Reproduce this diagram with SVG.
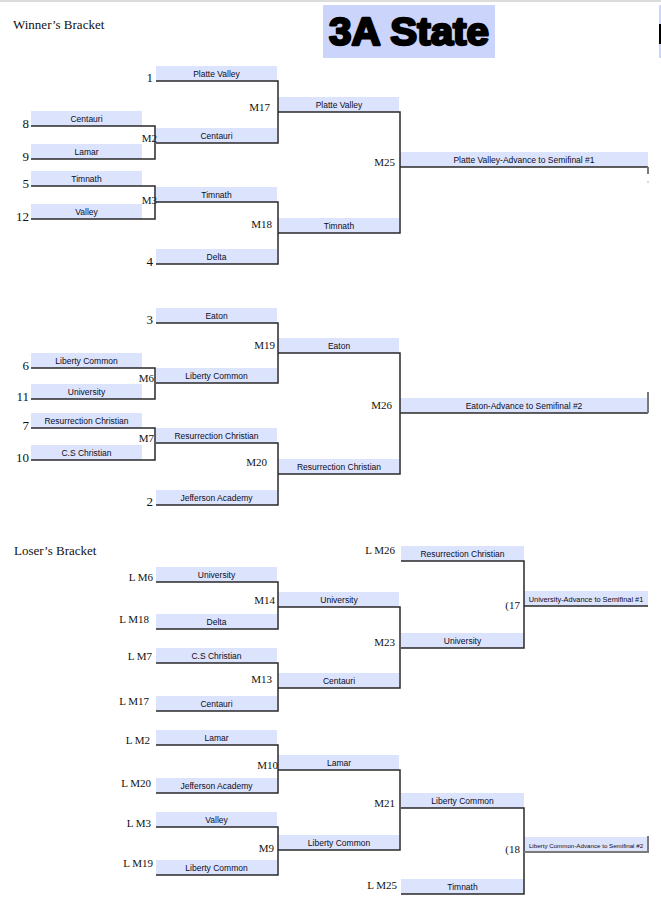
<svg xmlns="http://www.w3.org/2000/svg" width="661" height="915" viewBox="0 0 661 915">
<style>
.bx{fill:#dce3fc}
.ln{stroke:#2a2a2a;stroke-width:1.5;fill:none}
.tk{stroke:#7a7a7a;stroke-width:2;fill:none}
.t{font-family:"Liberation Sans",Arial,sans-serif;font-size:8.5px;fill:#0c0c1c;text-anchor:middle}
.lb{font-family:"Liberation Serif","Times New Roman",serif;font-size:11px;fill:#111;text-anchor:end}
.sd{font-family:"Liberation Serif","Times New Roman",serif;font-size:13px;fill:#111;text-anchor:end}
.hd{font-family:"Liberation Serif","Times New Roman",serif;font-size:13px;fill:#111}
</style>
<rect width="661" height="915" fill="#fff"/>
<line x1="0" y1="1" x2="661" y2="1" stroke="#d0d0d0" stroke-width="1.5"/>
<g id="title">
<rect x="323" y="5" width="172" height="53" fill="#cbd4fb"/>
<text x="409" y="45" font-family="'Liberation Sans',Arial,sans-serif" font-weight="bold" font-size="38" fill="#000" stroke="#000" stroke-width="2.4" stroke-linejoin="round" text-anchor="middle" textLength="160" lengthAdjust="spacingAndGlyphs">3A State</text>
</g>
<rect x="659" y="5" width="2" height="53" fill="#cbd4fb"/>
<rect x="659" y="24" width="2" height="20" fill="#000"/>
<text class="hd" x="13" y="29">Winner’s Bracket</text>
<text class="hd" x="14" y="555">Loser’s Bracket</text>

<!-- Winner's bracket, upper half -->
<g id="w-r1-centauri"><rect class="bx" x="31" y="111" width="111" height="15"/><text class="t" x="86.5" y="122">Centauri</text></g>
<g id="w-r1-lamar"><rect class="bx" x="31" y="144" width="111" height="15"/><text class="t" x="86.5" y="155">Lamar</text></g>
<g id="w-r1-timnath"><rect class="bx" x="31" y="171" width="111" height="15"/><text class="t" x="86.5" y="182">Timnath</text></g>
<g id="w-r1-valley"><rect class="bx" x="31" y="204" width="111" height="15"/><text class="t" x="86.5" y="215">Valley</text></g>
<g id="w-r2-platte"><rect class="bx" x="156" y="66" width="121" height="15"/><text class="t" x="216.5" y="77">Platte Valley</text></g>
<g id="w-r2-centauri"><rect class="bx" x="156" y="128" width="121" height="15"/><text class="t" x="216.5" y="139">Centauri</text></g>
<g id="w-r2-timnath"><rect class="bx" x="156" y="187" width="121" height="15"/><text class="t" x="216.5" y="198">Timnath</text></g>
<g id="w-r2-delta"><rect class="bx" x="156" y="249" width="121" height="15"/><text class="t" x="216.5" y="260">Delta</text></g>
<g id="w-r3-platte"><rect class="bx" x="278" y="97" width="121" height="15"/><text class="t" x="339" y="108">Platte Valley</text></g>
<g id="w-r3-timnath"><rect class="bx" x="278" y="218" width="121" height="15"/><text class="t" x="339" y="229">Timnath</text></g>
<g id="w-r4-platte"><rect class="bx" x="400" y="152" width="248" height="15"/><text class="t" x="524" y="163">Platte Valley-Advance to Semifinal #1</text></g>

<!-- Winner's bracket, lower half -->
<g id="w-r1-liberty"><rect class="bx" x="31" y="353" width="111" height="15"/><text class="t" x="86.5" y="364">Liberty Common</text></g>
<g id="w-r1-university"><rect class="bx" x="31" y="384" width="111" height="15"/><text class="t" x="86.5" y="395">University</text></g>
<g id="w-r1-resurrection"><rect class="bx" x="31" y="413" width="111" height="15"/><text class="t" x="86.5" y="424">Resurrection Christian</text></g>
<g id="w-r1-cs"><rect class="bx" x="31" y="445" width="111" height="15"/><text class="t" x="86.5" y="456">C.S Christian</text></g>
<g id="w-r2-eaton"><rect class="bx" x="156" y="308" width="121" height="15"/><text class="t" x="216.5" y="319">Eaton</text></g>
<g id="w-r2-liberty"><rect class="bx" x="156" y="368" width="121" height="15"/><text class="t" x="216.5" y="379">Liberty Common</text></g>
<g id="w-r2-resurrection"><rect class="bx" x="156" y="428" width="121" height="15"/><text class="t" x="216.5" y="439">Resurrection Christian</text></g>
<g id="w-r2-jefferson"><rect class="bx" x="156" y="490" width="121" height="15"/><text class="t" x="216.5" y="501">Jefferson Academy</text></g>
<g id="w-r3-eaton"><rect class="bx" x="278" y="338" width="121" height="15"/><text class="t" x="339" y="349">Eaton</text></g>
<g id="w-r3-resurrection"><rect class="bx" x="278" y="459" width="121" height="15"/><text class="t" x="339" y="470">Resurrection Christian</text></g>
<g id="w-r4-eaton"><rect class="bx" x="400" y="398" width="248" height="15"/><text class="t" x="524" y="409">Eaton-Advance to Semifinal #2</text></g>

<!-- Loser's bracket -->
<g id="l-r2-university"><rect class="bx" x="156" y="567" width="121" height="15"/><text class="t" x="216.5" y="578">University</text></g>
<g id="l-r2-delta"><rect class="bx" x="156" y="614" width="121" height="15"/><text class="t" x="216.5" y="625">Delta</text></g>
<g id="l-r2-cs"><rect class="bx" x="156" y="648" width="121" height="15"/><text class="t" x="216.5" y="659">C.S Christian</text></g>
<g id="l-r2-centauri"><rect class="bx" x="156" y="696" width="121" height="15"/><text class="t" x="216.5" y="707">Centauri</text></g>
<g id="l-r2-lamar"><rect class="bx" x="156" y="730" width="121" height="15"/><text class="t" x="216.5" y="741">Lamar</text></g>
<g id="l-r2-jefferson"><rect class="bx" x="156" y="778" width="121" height="15"/><text class="t" x="216.5" y="789">Jefferson Academy</text></g>
<g id="l-r2-valley"><rect class="bx" x="156" y="812" width="121" height="15"/><text class="t" x="216.5" y="823">Valley</text></g>
<g id="l-r2-liberty"><rect class="bx" x="156" y="860" width="121" height="15"/><text class="t" x="216.5" y="871">Liberty Common</text></g>
<g id="l-r3-university"><rect class="bx" x="278" y="592" width="121" height="15"/><text class="t" x="339" y="603">University</text></g>
<g id="l-r3-centauri"><rect class="bx" x="278" y="673" width="121" height="15"/><text class="t" x="339" y="684">Centauri</text></g>
<g id="l-r3-lamar"><rect class="bx" x="278" y="755" width="121" height="15"/><text class="t" x="339" y="766">Lamar</text></g>
<g id="l-r3-liberty"><rect class="bx" x="278" y="835" width="121" height="15"/><text class="t" x="339" y="846">Liberty Common</text></g>
<g id="l-r4-resurrection"><rect class="bx" x="401" y="546" width="123" height="15"/><text class="t" x="462.5" y="557">Resurrection Christian</text></g>
<g id="l-r4-university"><rect class="bx" x="401" y="633" width="123" height="15"/><text class="t" x="462.5" y="644">University</text></g>
<g id="l-r4-liberty"><rect class="bx" x="401" y="793" width="123" height="15"/><text class="t" x="462.5" y="804">Liberty Common</text></g>
<g id="l-r4-timnath"><rect class="bx" x="401" y="879" width="123" height="15"/><text class="t" x="462.5" y="890">Timnath</text></g>
<g id="l-r5-university"><rect class="bx" x="524" y="591" width="124" height="15"/><text class="t" x="586" y="602" style="font-size:7.4px">University-Advance to Semifinal #1</text></g>
<g id="l-r5-liberty"><rect class="bx" x="524" y="837" width="124" height="15"/><text class="t" x="586" y="847.5" style="font-size:6.2px">Liberty Common-Advance to Semifinal #2</text></g>

<g id="labels">
<text class="sd" x="153" y="82">1</text>
<text class="sd" x="29" y="128">8</text>
<text class="sd" x="29" y="161">9</text>
<text class="sd" x="29" y="188">5</text>
<text class="sd" x="29" y="221">12</text>
<text class="sd" x="153" y="266">4</text>
<text class="lb" x="270" y="111">M17</text>
<text class="lb" x="157" y="142">M2</text>
<text class="lb" x="157" y="204">M3</text>
<text class="lb" x="272" y="228">M18</text>
<text class="lb" x="395" y="166">M25</text>
<text class="sd" x="153" y="324">3</text>
<text class="sd" x="29" y="370">6</text>
<text class="sd" x="29" y="401">11</text>
<text class="sd" x="29" y="430">7</text>
<text class="sd" x="29" y="462">10</text>
<text class="sd" x="153" y="506">2</text>
<text class="lb" x="275" y="349">M19</text>
<text class="lb" x="154" y="382">M6</text>
<text class="lb" x="154" y="442">M7</text>
<text class="lb" x="267" y="466">M20</text>
<text class="lb" x="392" y="409">M26</text>
<text class="lb" x="153" y="581">L M6</text>
<text class="lb" x="149" y="623">L M18</text>
<text class="lb" x="275" y="604">M14</text>
<text class="lb" x="152" y="660">L M7</text>
<text class="lb" x="272" y="683">M13</text>
<text class="lb" x="149" y="705">L M17</text>
<text class="lb" x="395" y="554">L M26</text>
<text class="lb" x="395" y="646">M23</text>
<text class="lb" x="520" y="609">(17</text>
<text class="lb" x="150" y="744">L M2</text>
<text class="lb" x="151" y="787">L M20</text>
<text class="lb" x="278" y="769">M10</text>
<text class="lb" x="151" y="827">L M3</text>
<text class="lb" x="153" y="867">L M19</text>
<text class="lb" x="274" y="852">M9</text>
<text class="lb" x="395" y="807">M21</text>
<text class="lb" x="520" y="853">(18</text>
<text class="lb" x="397" y="889">L M25</text>
</g>

<g id="connectors">
<path class="ln" d="M31 126H155V159H31M31 186H155V219H31"/>
<path class="ln" d="M156 81H278V143H156M156 202H278V264H156"/>
<path class="ln" d="M278 112H400V233H278"/>
<path class="ln" d="M400 167H648"/>
<path class="tk" d="M648 167V174"/>
<rect x="647.5" y="181.5" width="1" height="1" fill="#666"/>
<path class="ln" d="M31 368H155V399H31M31 428H155V460H31"/>
<path class="ln" d="M156 323H278V383H156M156 443H278V505H156"/>
<path class="ln" d="M278 353H400V474H278"/>
<path class="ln" d="M400 413H648"/>
<path class="tk" d="M648 392V413"/>
<path class="ln" d="M156 582H278V629H156M156 663H278V711H156M156 745H278V793H156M156 827H278V875H156"/>
<path class="ln" d="M278 607H400V688H278M278 770H400V850H278"/>
<path class="ln" d="M401 561H524V648H401M401 808H524V894H401"/>
<path class="ln" d="M524 606H648"/>
<path class="tk" d="M524 852H648V836"/>
</g>
</svg>
